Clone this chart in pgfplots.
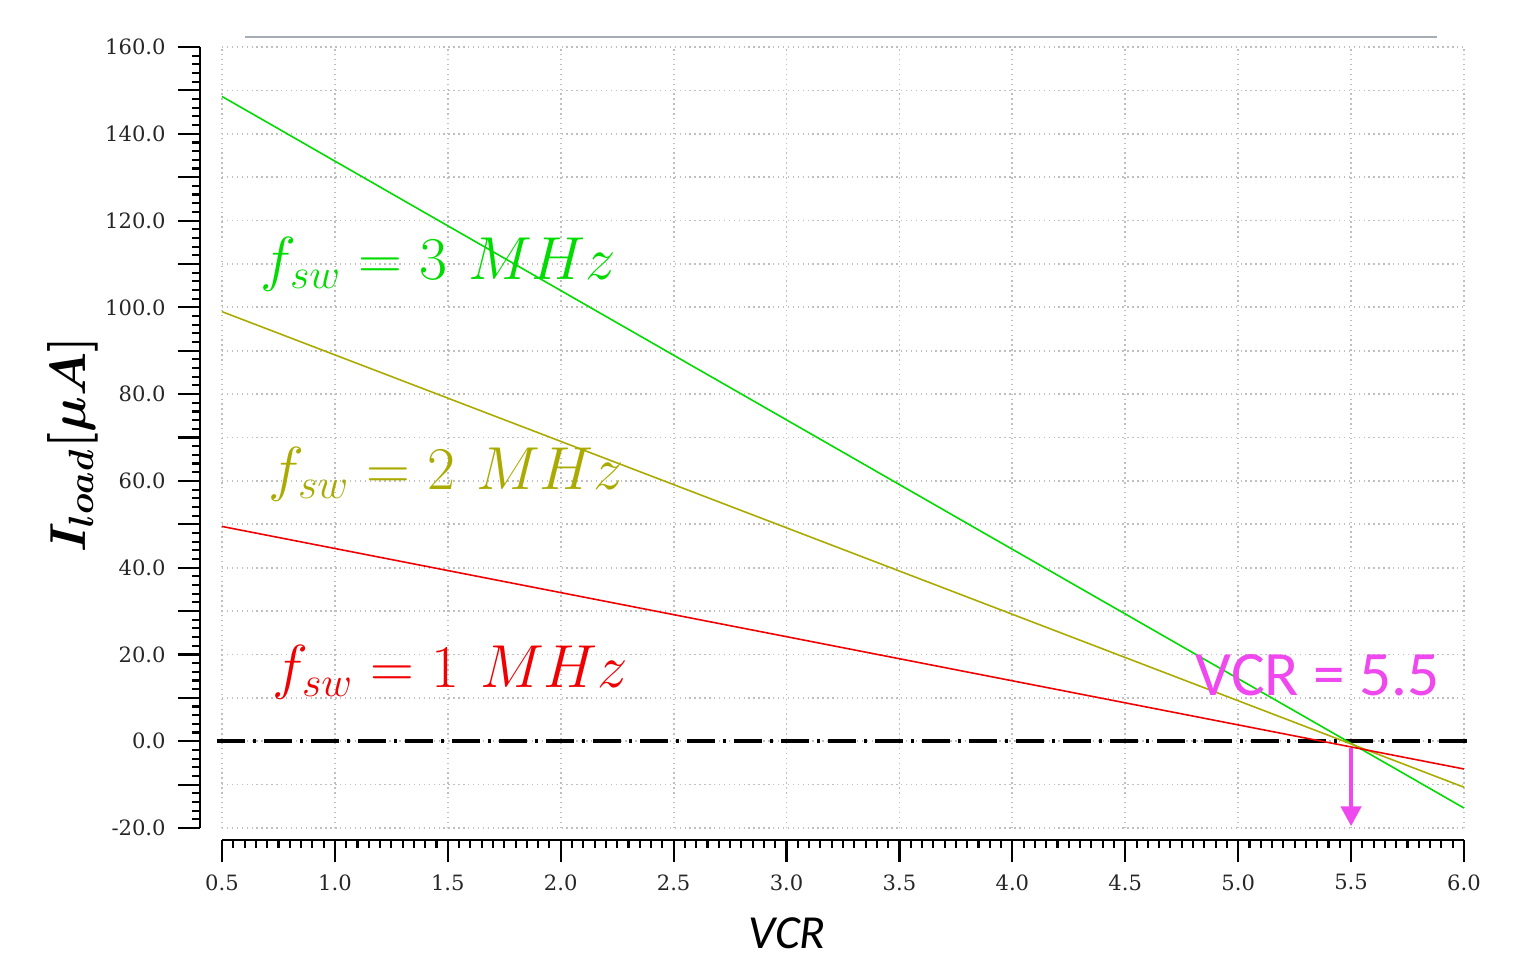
\documentclass[border=0pt]{standalone}
\usepackage{fontspec}
\usepackage{bm}
\usepackage{pgfplots}
\pgfplotsset{compat=1.18}
\usetikzlibrary{arrows.meta}
\setmainfont{DejaVu Serif}
\newfontfamily\calibri{Carlito}

\definecolor{fgreen}{RGB}{0,220,0}
\definecolor{folive}{RGB}{170,170,0}
\definecolor{fred}{RGB}{240,0,0}
\definecolor{vcrmag}{RGB}{238,72,238}
\definecolor{topgray}{RGB}{165,172,180}

\begin{document}
\begin{tikzpicture}
\path[use as bounding box] (-2.22,-1.27) rectangle (13.05,8.28);
\begin{axis}[
    at={(0,0)}, anchor=south west,
    width=12.42cm, height=7.81cm, scale only axis,
    xmin=0.5, xmax=6, ymin=-20, ymax=160,
    clip=false,
    axis lines=left,
    axis line style={-, line width=0.8pt},
    axis x line shift=0.12cm,
    axis y line shift=0.22cm,
    xtick={0.5,1,1.5,2,2.5,3,3.5,4,4.5,5,5.5,6},
    xticklabels={0.5,1.0,1.5,2.0,2.5,3.0,3.5,4.0,4.5,5.0,5.5,6.0},
    ytick={-20,-10,0,10,20,30,40,50,60,70,80,90,100,110,120,130,140,150,160},
    yticklabels={-20.0,,0.0,,20.0,,40.0,,60.0,,80.0,,100.0,,120.0,,140.0,,160.0},
    minor x tick num=9, minor y tick num=4,
    tick align=outside,
    major tick length=0.22cm, minor tick length=0.08cm,
    tick style={black, line width=0.6pt},
    grid=major,
    grid style={densely dotted, gray!50, line width=0.5pt},
    ticklabel style={font=\fontsize{6}{7}\selectfont, text=black!85},
]
% zero line
\addplot[black, line width=1.2pt, dash pattern=on 0.28cm off 0.08cm on 0.03cm off 0.08cm] coordinates {(0.48,0) (6.05,0)};
% load current for 3, 2 and 1 MHz
\addplot[fgreen, line width=0.45pt] coordinates {(0.5,148.6) (6.0,-15.4)};
\addplot[folive, line width=0.45pt] coordinates {(0.5,99.0) (6.0,-10.6)};
\addplot[fred, line width=0.45pt] coordinates {(0.5,49.5) (6.0,-6.4)};
\draw[topgray, line width=0.6pt] (axis cs:0.602,162.3) -- (axis cs:5.88,162.3);
\draw[vcrmag, line width=1.3pt, -{Triangle[width=0.2cm,length=0.2cm]}] (axis cs:5.5,-1.5) -- (axis cs:5.5,-19.6);
\end{axis}
% labels placed in picture units: 1 px of the reference = 0.01 cm, origin at plot corner
\node[rotate=90, font=\fontsize{14}{16}\selectfont] at (-1.49,3.83) {$\bm{I_{load}[\mu A]}$};
\node[font=\calibri\itshape\fontsize{13.5}{15}\selectfont] at (5.65,-1.05) {VCR};
\node[anchor=west, text=fgreen, font=\fontsize{18.7}{21}\selectfont, inner sep=0pt] at (0.38,5.64) {$f_{sw}=3$ $MHz$};
\node[anchor=west, text=folive, font=\fontsize{18.7}{21}\selectfont, inner sep=0pt] at (0.46,3.54) {$f_{sw}=2$ $MHz$};
\node[anchor=west, text=fred, font=\fontsize{18.7}{21}\selectfont, inner sep=0pt] at (0.50,1.56) {$f_{sw}=1$ $MHz$};
\node[anchor=west, text=vcrmag, font=\calibri\fontsize{18}{20}\selectfont, inner sep=0pt] at (9.73,1.53) {VCR = 5.5};
\end{tikzpicture}
\end{document}
